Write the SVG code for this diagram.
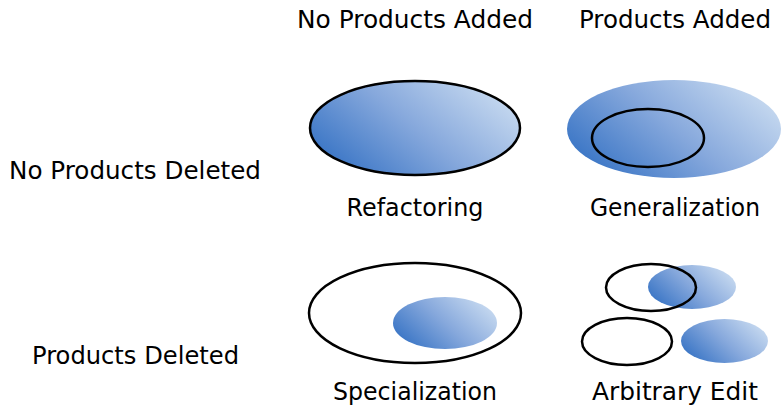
<svg xmlns="http://www.w3.org/2000/svg" width="782" height="407" viewBox="0 0 782 407">
<style>
text{font-family:"DejaVu Sans","Liberation Sans",sans-serif;font-size:24.5px;fill:#000;text-anchor:middle}
.o{fill:none;stroke:#000;stroke-width:2.5}
.f{fill:url(#g)}
.fo{fill:url(#g);stroke:#000;stroke-width:2.5}
</style>
<defs>
<linearGradient id="g" x1="0" y1="0.77" x2="1" y2="0.23">
<stop offset="0" stop-color="#3572c4"/>
<stop offset="0.5" stop-color="#86a8dc"/>
<stop offset="1" stop-color="#cadcf1"/>
</linearGradient>
</defs>
<g id="headers">
<text x="415" y="28" textLength="236" lengthAdjust="spacingAndGlyphs">No Products Added</text>
<text x="675" y="28" textLength="192" lengthAdjust="spacingAndGlyphs">Products Added</text>
<text x="135" y="179" textLength="252" lengthAdjust="spacingAndGlyphs">No Products Deleted</text>
<text x="135.5" y="364" textLength="207" lengthAdjust="spacingAndGlyphs">Products Deleted</text>
</g>
<g id="refactoring">
<ellipse class="fo" cx="415" cy="128" rx="105" ry="47"/>
<text x="415" y="216" textLength="137" lengthAdjust="spacingAndGlyphs">Refactoring</text>
</g>
<g id="generalization">
<ellipse class="f" cx="674" cy="129" rx="107" ry="49"/>
<ellipse class="o" cx="648" cy="138" rx="56" ry="29"/>
<text x="675" y="216" textLength="170" lengthAdjust="spacingAndGlyphs">Generalization</text>
</g>
<g id="specialization">
<ellipse class="o" cx="415" cy="313" rx="106" ry="50"/>
<ellipse class="f" cx="445" cy="323" rx="52" ry="26"/>
<text x="415" y="400" textLength="164" lengthAdjust="spacingAndGlyphs">Specialization</text>
</g>
<g id="arbitrary-edit">
<ellipse class="f" cx="692" cy="287" rx="44" ry="22"/>
<ellipse class="o" cx="651" cy="287.5" rx="45" ry="23.5"/>
<ellipse class="o" cx="627" cy="341.5" rx="45" ry="23.5"/>
<ellipse class="f" cx="724.5" cy="341" rx="43.5" ry="22"/>
<text x="675" y="400" textLength="166" lengthAdjust="spacingAndGlyphs">Arbitrary Edit</text>
</g>
<g id="connectors"/>
</svg>
